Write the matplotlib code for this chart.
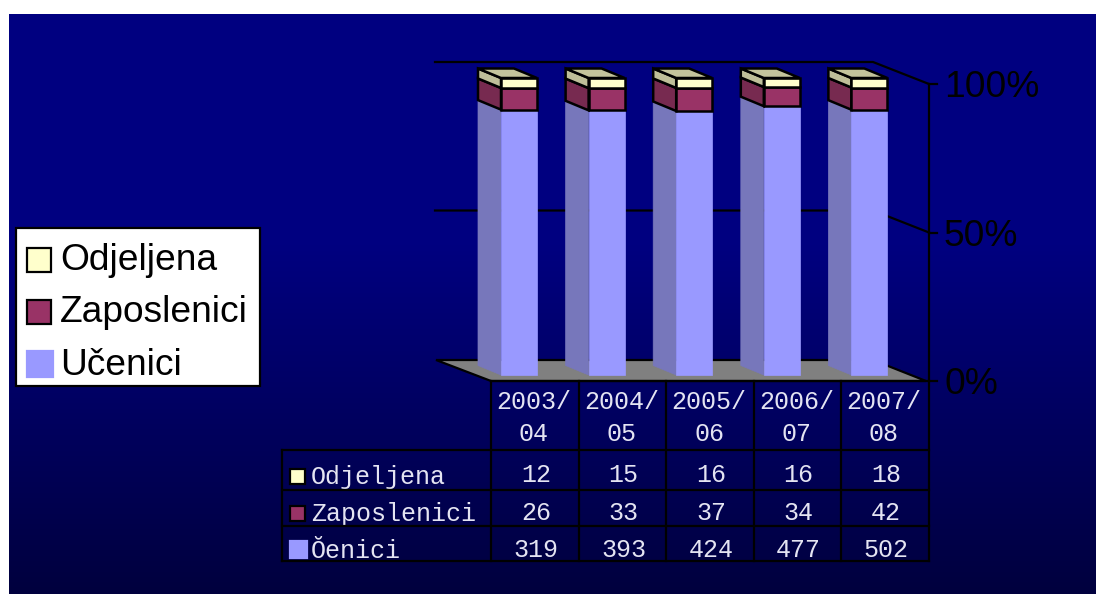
import numpy as np
import matplotlib
matplotlib.use("Agg")
import matplotlib.pyplot as plt
from matplotlib.patches import Polygon, Rectangle

# table data, bottom series first
godine = ["2003/\n04", "2004/\n05", "2005/\n06", "2006/\n07", "2007/\n08"]
ucenici = [319, 393, 424, 477, 502]
zaposlenici = [26, 33, 37, 34, 42]
odjeljena = [12, 15, 16, 16, 18]
postotci = [0, 50, 100]

serije = [ucenici, zaposlenici, odjeljena]
boje = ["#9999ff", "#993366", "#ffffcc"]
boje_bok = ["#7777bb", "#772a50", "#bfbf99"]
boje_vrh = [None, None, "#c4c49c"]
rubovi = [None, "black", "black"]

fig = plt.figure(figsize=(10.96, 5.94), dpi=100, facecolor="white")
ax = fig.add_axes([0, 0, 1, 1])
ax.axis("off")

# pozadina
grad = np.interp(np.linspace(0, 1, 400), [0, 0.4, 1], [128, 128, 62])
slika = np.zeros((400, 1, 3), dtype=np.uint8)
slika[:, 0, 2] = grad.astype(np.uint8)
ax.imshow(slika, extent=[9, 1096, 594, 14], aspect="auto", zorder=0)
ax.set_xlim(0, 1096)
ax.set_ylim(594, 0)

# skala 3d grafa
dno = 375
visina = 297
dx, dy = -23, -9.5
sirina = 36
prvi = 501
razmak = 87.6
lw = 1.6

# zid i pod
ax.add_patch(Polygon([(436, 360), (873, 360), (926, 381), (491, 381)], fc="#808080", ec="black", lw=lw, zorder=1))
for p in postotci:
    y = 381 - p / 100 * 297
    if p > 0:
        ax.plot([435, 873, 929], [y - 22, y - 22, y], color="black", lw=lw, zorder=1)
    ax.plot([929, 937], [y, y], color="black", lw=lw, zorder=1)
    ax.text(944, y + 13, "%d%%" % p, fontsize=26.7, family="Liberation Sans", color="black", va="baseline", ha="left")
ax.plot([929, 929], [84, 381], color="black", lw=lw, zorder=1)

# stupci
for i in range(len(godine)):
    ukupno = sum(s[i] for s in serije)
    x = prvi + i * razmak
    zbroj = 0
    for k, s in enumerate(serije):
        y0 = dno - zbroj / ukupno * visina
        zbroj += s[i]
        y1 = dno - zbroj / ukupno * visina
        ec = rubovi[k] if rubovi[k] else boje_bok[k]
        z = 2 + k
        slw = 1.8 if rubovi[k] else 0.5
        ax.add_patch(Polygon([(x, y0), (x + dx, y0 + dy), (x + dx, y1 + dy), (x, y1)], fc=boje_bok[k], ec=ec, lw=slw, zorder=z))
        ax.add_patch(Rectangle((x, y1), sirina, y0 - y1, fc=boje[k], ec=rubovi[k] if rubovi[k] else boje[k], lw=slw, zorder=z))
        if boje_vrh[k]:
            ax.add_patch(Polygon([(x, y1), (x + dx, y1 + dy), (x + dx + sirina, y1 + dy), (x + sirina, y1)], fc=boje_vrh[k], ec="black", lw=slw, zorder=z))

# tablica
stupci = [491, 579, 666, 754, 841, 929]
retci = [381, 450, 490, 526, 561]
tekst = "#e4e4f2"
mono = "Liberation Mono"
for x in stupci:
    ax.plot([x, x], [retci[0], retci[-1]], color="black", lw=lw, zorder=6)
ax.plot([282, 282], [retci[1], retci[-1]], color="black", lw=lw, zorder=6)
ax.plot([491, 929], [retci[0], retci[0]], color="black", lw=lw, zorder=6)
for y in retci[1:]:
    ax.plot([282, 929], [y, y], color="black", lw=lw, zorder=6)

for i, g in enumerate(godine):
    xc = (stupci[i] + stupci[i + 1]) / 2 - 1
    prvi_red, drugi_red = g.split("\n")
    ax.text(xc, 409, prvi_red, fontsize=18, family=mono, color=tekst, ha="center", va="baseline")
    ax.text(xc, 441, drugi_red, fontsize=18, family=mono, color=tekst, ha="center", va="baseline")

redovi = [("Odjeljena", odjeljena, boje[2], "black", 484, 482, 15),
          ("Zaposlenici", zaposlenici, boje[1], "black", 521, 520, 15),
          ("Ŏenici", ucenici, boje[0], boje[0], 558, 557, 17)]
for naziv, vrijednosti, boja, rub, y, y_br, s in redovi:
    ax.add_patch(Rectangle((290, y - s), s, s, fc=boja, ec=rub, lw=lw, zorder=7))
    ax.text(311, y, naziv, fontsize=18, family=mono, color=tekst, ha="left", va="baseline")
    for i, v in enumerate(vrijednosti):
        xc = (stupci[i] + stupci[i + 1]) / 2 + 1
        ax.text(xc, y_br, str(v), fontsize=18, family=mono, color=tekst, ha="center", va="baseline")

# legenda
ax.add_patch(Rectangle((15.5, 228), 244.5, 158, fc="white", ec="black", lw=lw, zorder=8))
legenda = [("Odjeljena", boje[2], "black", 270, 24), ("Zaposlenici", boje[1], "black", 322, 24), ("Učenici", boje[0], boje[0], 375, 26)]
for naziv, boja, rub, y, s in legenda:
    ax.add_patch(Rectangle((27, y - s + 2), s, s, fc=boja, ec=rub, lw=lw, zorder=9))
    ax.text(60, y, naziv, fontsize=26.7, family="Liberation Sans", color="black", ha="left", va="baseline", zorder=9)

fig.savefig("out.png", dpi=100, facecolor="white")
